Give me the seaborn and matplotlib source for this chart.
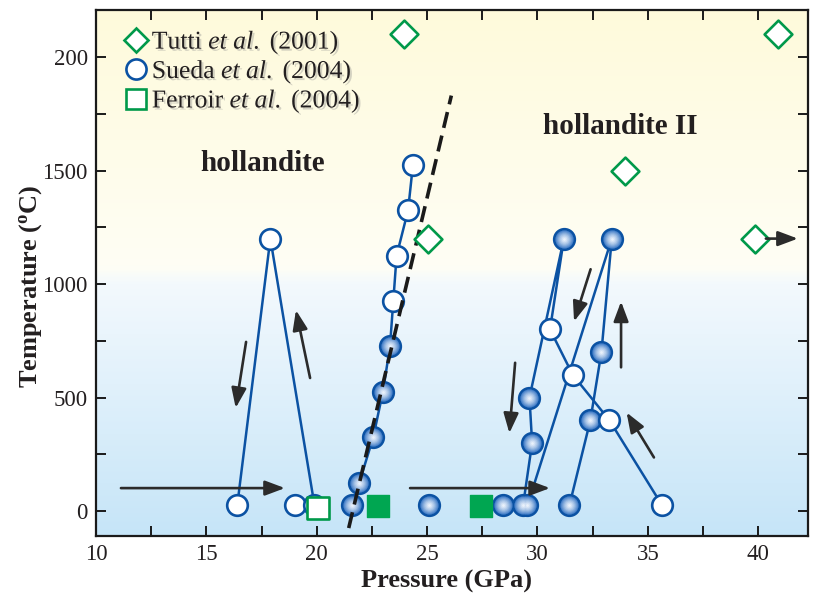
import numpy as np
import matplotlib
matplotlib.use("Agg")
import matplotlib.pyplot as plt
import matplotlib.patheffects as pe
from matplotlib.lines import Line2D
from matplotlib.colors import LinearSegmentedColormap
import seaborn as sns

# Sueda et al. (2004): P-T paths of the individual runs
run_left_p = [16.4, 17.9, 19.9]
run_left_t = [25, 1200, 25]
run_mid_p = [21.6, 21.93, 22.56, 23.0, 23.32, 23.47, 23.62, 24.14, 24.36]
run_mid_t = [25, 125, 325, 525, 725, 925, 1125, 1325, 1525]
run_a_p = [29.35, 29.76, 29.64, 31.2, 30.57, 31.6, 33.26, 35.65]
run_a_t = [25, 300, 500, 1200, 800, 600, 400, 25]
run_b_p = [29.55, 33.37, 32.9, 32.4, 31.45]
run_b_t = [25, 1200, 700, 400, 25]

# Sueda et al. (2004): open = hollandite, filled = hollandite II
sueda_open_p = [16.4, 17.9, 19.0, 19.9, 23.47, 23.62, 24.14, 24.36, 30.57, 31.6, 33.26, 35.65]
sueda_open_t = [25, 1200, 25, 25, 925, 1125, 1325, 1525, 800, 600, 400, 25]
sueda_fill_p = [21.6, 21.93, 22.56, 23.0, 23.32, 25.1, 28.45, 29.35, 29.55, 31.45,
                29.76, 29.64, 31.2, 33.37, 32.9, 32.4]
sueda_fill_t = [25, 125, 325, 525, 725, 25, 25, 25, 25, 25,
                300, 500, 1200, 1200, 700, 400]

# Tutti et al. (2001)
tutti_p = [23.96, 25.04, 33.97, 39.86, 40.9]
tutti_t = [2100, 1200, 1500, 1200, 2100]

# Ferroir et al. (2004)
ferroir_open_p = [20.06]
ferroir_open_t = [15]
ferroir_fill_p = [22.76, 27.44]
ferroir_fill_t = [20, 20]

# dashed phase boundary
boundary_p = [21.45, 26.1]
boundary_t = [-75, 1830]

# path direction arrows
arrow_p0 = [11.13, 16.8, 19.7, 24.23, 28.99, 32.41, 33.79, 35.28, 40.35]
arrow_t0 = [101, 745, 586, 101, 653, 1065, 633, 236, 1200]
arrow_p1 = [18.56, 16.33, 19.06, 30.57, 28.73, 31.66, 33.79, 34.04, 41.8]
arrow_t1 = [101, 454, 885, 101, 343, 835, 923, 434, 1200]

x_ticks = [10, 15, 20, 25, 30, 35, 40]
y_ticks = [0, 500, 1000, 1500, 2000]
y_ticklabels = ["0", "500", "1000", "1500", "200"]

sns.set_style("ticks")
plt.rcParams['font.family'] = ['Liberation Serif', 'DejaVu Serif']
plt.rcParams['mathtext.fontset'] = 'custom'
plt.rcParams['mathtext.rm'] = 'Liberation Serif'
plt.rcParams['mathtext.it'] = 'Liberation Serif:italic'
plt.rcParams['mathtext.bf'] = 'Liberation Serif:bold'

blue = '#0b52a3'
green = '#00994a'
ink = '#231f20'

fig = plt.figure(figsize=(8.13, 5.98), dpi=100)
ax = fig.add_axes([96 / 813, 62 / 598, 712 / 813, 526 / 598])

xlim = (10, 42.26)
ylim = (-110, 2207)

# background gradient, blue at the bottom to pale yellow at the top
bg = LinearSegmentedColormap.from_list(
    'bg', [(0.0, '#c6e5f8'), (0.48, '#f3f9fd'), (0.51, '#fefef5'), (1.0, '#fffadb')])
ax.imshow(np.linspace(0, 1, 300).reshape(-1, 1), cmap=bg, aspect='auto',
          origin='lower', extent=(*xlim, *ylim), zorder=0)

# run paths
for rp, rt in [(run_left_p, run_left_t), (run_mid_p, run_mid_t),
               (run_a_p, run_a_t), (run_b_p, run_b_t)]:
    sns.lineplot(x=rp, y=rt, sort=False, estimator=None, color=blue,
                 linewidth=1.8, ax=ax, zorder=2)

# filled circles with a radial shading
sns.scatterplot(x=sueda_fill_p, y=sueda_fill_t, s=220, color='#1d62b6',
                edgecolor=blue, linewidth=1.9, ax=ax, zorder=3)
shade = LinearSegmentedColormap.from_list('shade', ['#2d6fc1', '#e9f1fb'])
for k, f in enumerate(np.linspace(0, 1, 9)[1:]):
    sns.scatterplot(x=sueda_fill_p, y=sueda_fill_t, s=200 * (1 - f) ** 1.3 + 4,
                    color=shade(f), linewidth=0, ax=ax, zorder=3.1 + k * 0.01)

# open circles
sns.scatterplot(x=sueda_open_p, y=sueda_open_t, s=220, color='white',
                edgecolor=blue, linewidth=1.9, ax=ax, zorder=3.5)

# dashed boundary
sns.lineplot(x=boundary_p, y=boundary_t, color='#1a1a1a', linewidth=2.6,
             dashes=False, ax=ax, zorder=4).lines[-1].set_dashes((4.5, 2.2))

# Tutti diamonds
sns.scatterplot(x=tutti_p, y=tutti_t, marker='D', s=200, color='white',
                edgecolor=green, linewidth=1.9, ax=ax, zorder=5)

# Ferroir squares
sns.scatterplot(x=ferroir_open_p, y=ferroir_open_t, marker='s', s=240, color='white',
                edgecolor=green, linewidth=1.9, ax=ax, zorder=5)
sns.scatterplot(x=ferroir_fill_p, y=ferroir_fill_t, marker='s', s=240, color='#00a651',
                edgecolor='#00a651', linewidth=1.0, ax=ax, zorder=5)

for p0, t0, p1, t1 in zip(arrow_p0, arrow_t0, arrow_p1, arrow_t1):
    ax.annotate('', xy=(p1, t1), xytext=(p0, t0), zorder=6,
                arrowprops=dict(arrowstyle='-|>,head_length=0.8,head_width=0.3',
                                color='#2b2b2b', lw=1.9, shrinkA=0, shrinkB=0,
                                mutation_scale=15))

ax.text(17.57, 1533, 'hollandite', fontsize=21, fontweight='bold', color=ink,
        ha='center', va='center', zorder=6)
ax.text(33.74, 1696, 'hollandite II', fontsize=21, fontweight='bold', color=ink,
        ha='center', va='center', zorder=6)

ax.set_xlim(*xlim)
ax.set_ylim(*ylim)
ax.set_xticks(x_ticks)
ax.set_yticks(y_ticks)
ax.set_yticklabels(y_ticklabels)
ax.set_xticks(np.arange(12.5, 42, 5), minor=True)
ax.set_yticks(np.arange(250, 2200, 500), minor=True)
ax.tick_params(which='both', direction='in', top=True, right=True, width=1.4,
               color='#1a1a1a', labelsize=16.5, labelcolor=ink, pad=6)
ax.tick_params(which='major', length=7)
ax.tick_params(which='minor', length=7)
for s in ax.spines.values():
    s.set_linewidth(1.6)
    s.set_color('#1a1a1a')
    s.set_zorder(7)

ax.set_xlabel('Pressure (GPa)', fontsize=19, fontweight='bold', color=ink, labelpad=3)
ax.set_ylabel(r'Temperature ($^{\mathbf{o}}$C)', fontsize=19, fontweight='bold',
              color=ink, labelpad=-1)
ax.xaxis.label.set_x(0.492)
ax.yaxis.label.set_y(0.475)

handles = [
    Line2D([], [], marker='D', ls='none', ms=12.5, mfc='white', mec=green, mew=1.9),
    Line2D([], [], marker='o', ls='none', ms=14.5, mfc='white', mec=blue, mew=1.9),
    Line2D([], [], marker='s', ls='none', ms=14, mfc='white', mec=green, mew=1.9),
]
labels = [r'Tutti $et$ $al.$ (2001)', r'Sueda $et$ $al.$ (2004)',
          r'Ferroir $et$ $al.$ (2004)']
leg = ax.legend(handles, labels, loc='upper left', bbox_to_anchor=(0.017, 0.995),
                frameon=False, fontsize=18.5, handlelength=0.9, handletextpad=0.15,
                labelspacing=0.1, borderaxespad=0.25)
for t in leg.get_texts():
    t.set_color(ink)
    t.set_path_effects([pe.withSimplePatchShadow(offset=(1.5, -1.5),
                                                 shadow_rgbFace='#888888', alpha=0.35)])

fig.savefig('out.png', dpi=100)
